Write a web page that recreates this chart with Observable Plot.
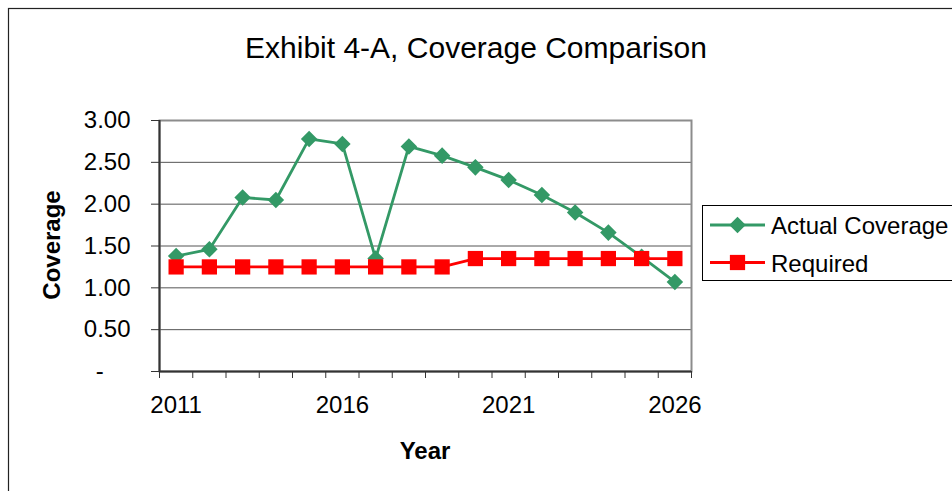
<!DOCTYPE html>
<html>
<head>
<meta charset="utf-8">
<script src="https://cdn.jsdelivr.net/npm/d3@7"></script>
<script src="https://cdn.jsdelivr.net/npm/@observablehq/plot@0.6"></script>
<style>
  html, body { margin: 0; padding: 0; background: #fff; }
  #chart { position: relative; width: 952px; height: 491px; overflow: hidden; }
</style>
</head>
<body>
<div id="chart"></div>
<script>
// ---- Data ----
const years = [2011, 2012, 2013, 2014, 2015, 2016, 2017, 2018, 2019, 2020, 2021, 2022, 2023, 2024, 2025, 2026];
const actualCoverage = [1.38, 1.46, 2.08, 2.05, 2.78, 2.72, 1.35, 2.69, 2.58, 2.44, 2.29, 2.11, 1.90, 1.66, 1.37, 1.07];
const requiredCoverage = [1.25, 1.25, 1.25, 1.25, 1.25, 1.25, 1.25, 1.25, 1.25, 1.35, 1.35, 1.35, 1.35, 1.35, 1.35, 1.35];
const yTicks = [0, 0.5, 1, 1.5, 2, 2.5, 3];
const xLabelYears = [2011, 2016, 2021, 2026];
const seriesNames = ["Actual Coverage", "Required"];
const titleText = "Exhibit 4-A, Coverage Comparison";
const xTitle = "Year";
const yTitle = "Coverage";

const GREEN = "#339966";
const RED = "#FF0000";
const FONT = "'Liberation Sans', Arial, sans-serif";

const actual = years.map((y, i) => ({year: y, value: actualCoverage[i]}));
const required = years.map((y, i) => ({year: y, value: requiredCoverage[i]}));
const boundaries = years.map(y => y - 0.5).concat([years[years.length - 1] + 0.5]);

const W = 952, H = 491;
const mL = 159, mR = 261, mT = 120, mB = 120;
const DIAMOND_R = 6.6, SQUARE_R = 8.6;

const chart = Plot.plot({
  width: W,
  height: H,
  marginLeft: mL,
  marginRight: mR,
  marginTop: mT,
  marginBottom: mB,
  style: {fontFamily: FONT, fontSize: "24px", color: "#000", background: "transparent"},
  x: {domain: [boundaries[0], boundaries[boundaries.length - 1]]},
  y: {domain: [0, 3]},
  marks: [
    Plot.gridY(yTicks.filter(t => t > 0 && t < 3), {stroke: "#555", strokeOpacity: 1, strokeWidth: 1}),
    Plot.frame({stroke: "#8c8c8c", strokeWidth: 2}),
    Plot.ruleY([0], {stroke: "#333", strokeWidth: 2}),
    Plot.ruleX([boundaries[0]], {stroke: "#333", strokeWidth: 2}),
    Plot.axisY({
      ticks: yTicks,
      tickSize: 8,
      tickPadding: 21,
      stroke: "#333",
      fontSize: 24,
      label: null,
      tickFormat: d => d === 0 ? "-\u00a0\u00a0\u00a0\u00a0" : d.toFixed(2)
    }),
    Plot.axisX({
      ticks: boundaries,
      tickSize: 7,
      stroke: "#333",
      label: null,
      tickFormat: () => ""
    }),
    Plot.axisX({
      ticks: xLabelYears,
      tickSize: 0,
      tickPadding: 24,
      fontSize: 24,
      label: null,
      tickFormat: d => String(d)
    }),
    Plot.line(actual, {x: "year", y: "value", stroke: GREEN, strokeWidth: 2.8}),
    Plot.dot(actual, {x: "year", y: "value", symbol: "square", r: DIAMOND_R, rotate: 45, fill: GREEN, stroke: "none"}),
    Plot.line(required, {x: "year", y: "value", stroke: RED, strokeWidth: 2.8}),
    Plot.dot(required, {x: "year", y: "value", symbol: "square", r: SQUARE_R, fill: RED, stroke: "none"})
  ]
});

document.getElementById("chart").appendChild(chart);

const svg = d3.select(chart);

// Outer chart-area border
svg.append("rect")
  .attr("x", 8.5).attr("y", 8.5)
  .attr("width", W + 20).attr("height", H + 20)
  .attr("fill", "none").attr("stroke", "#222").attr("stroke-width", 1.2);

// Title
svg.append("text")
  .attr("x", 476).attr("y", 57.5)
  .attr("text-anchor", "middle")
  .attr("font-family", FONT).attr("font-size", 30).attr("fill", "#000")
  .text(titleText);

// Axis titles
svg.append("text")
  .attr("x", (mL + (W - mR)) / 2).attr("y", 459)
  .attr("text-anchor", "middle")
  .attr("font-family", FONT).attr("font-size", 24).attr("font-weight", "bold").attr("fill", "#000")
  .text(xTitle);

svg.append("text")
  .attr("transform", "translate(60,245) rotate(-90)")
  .attr("text-anchor", "middle")
  .attr("font-family", FONT).attr("font-size", 24).attr("font-weight", "bold").attr("fill", "#000")
  .text(yTitle);

// Legend
const lg = svg.append("g");
lg.append("rect")
  .attr("x", 702.5).attr("y", 205.5).attr("width", 300).attr("height", 75)
  .attr("fill", "#fff").attr("stroke", "#000").attr("stroke-width", 1);
const legendItems = [
  {name: seriesNames[0], color: GREEN, y: 225, size: Math.PI * DIAMOND_R * DIAMOND_R, rot: 45},
  {name: seriesNames[1], color: RED, y: 262.5, size: Math.PI * SQUARE_R * SQUARE_R, rot: 0}
];
legendItems.forEach(it => {
  lg.append("line").attr("x1", 710).attr("x2", 765).attr("y1", it.y).attr("y2", it.y)
    .attr("stroke", it.color).attr("stroke-width", 2.8);
  lg.append("path").attr("d", d3.symbol(d3.symbolSquare, it.size)())
    .attr("transform", `translate(737.5,${it.y}) rotate(${it.rot})`).attr("fill", it.color);
  lg.append("text").attr("x", 771).attr("y", it.y + 9)
    .attr("text-anchor", "start")
    .attr("font-family", FONT).attr("font-size", 24).attr("fill", "#000")
    .text(it.name);
});
</script>
</body>
</html>
